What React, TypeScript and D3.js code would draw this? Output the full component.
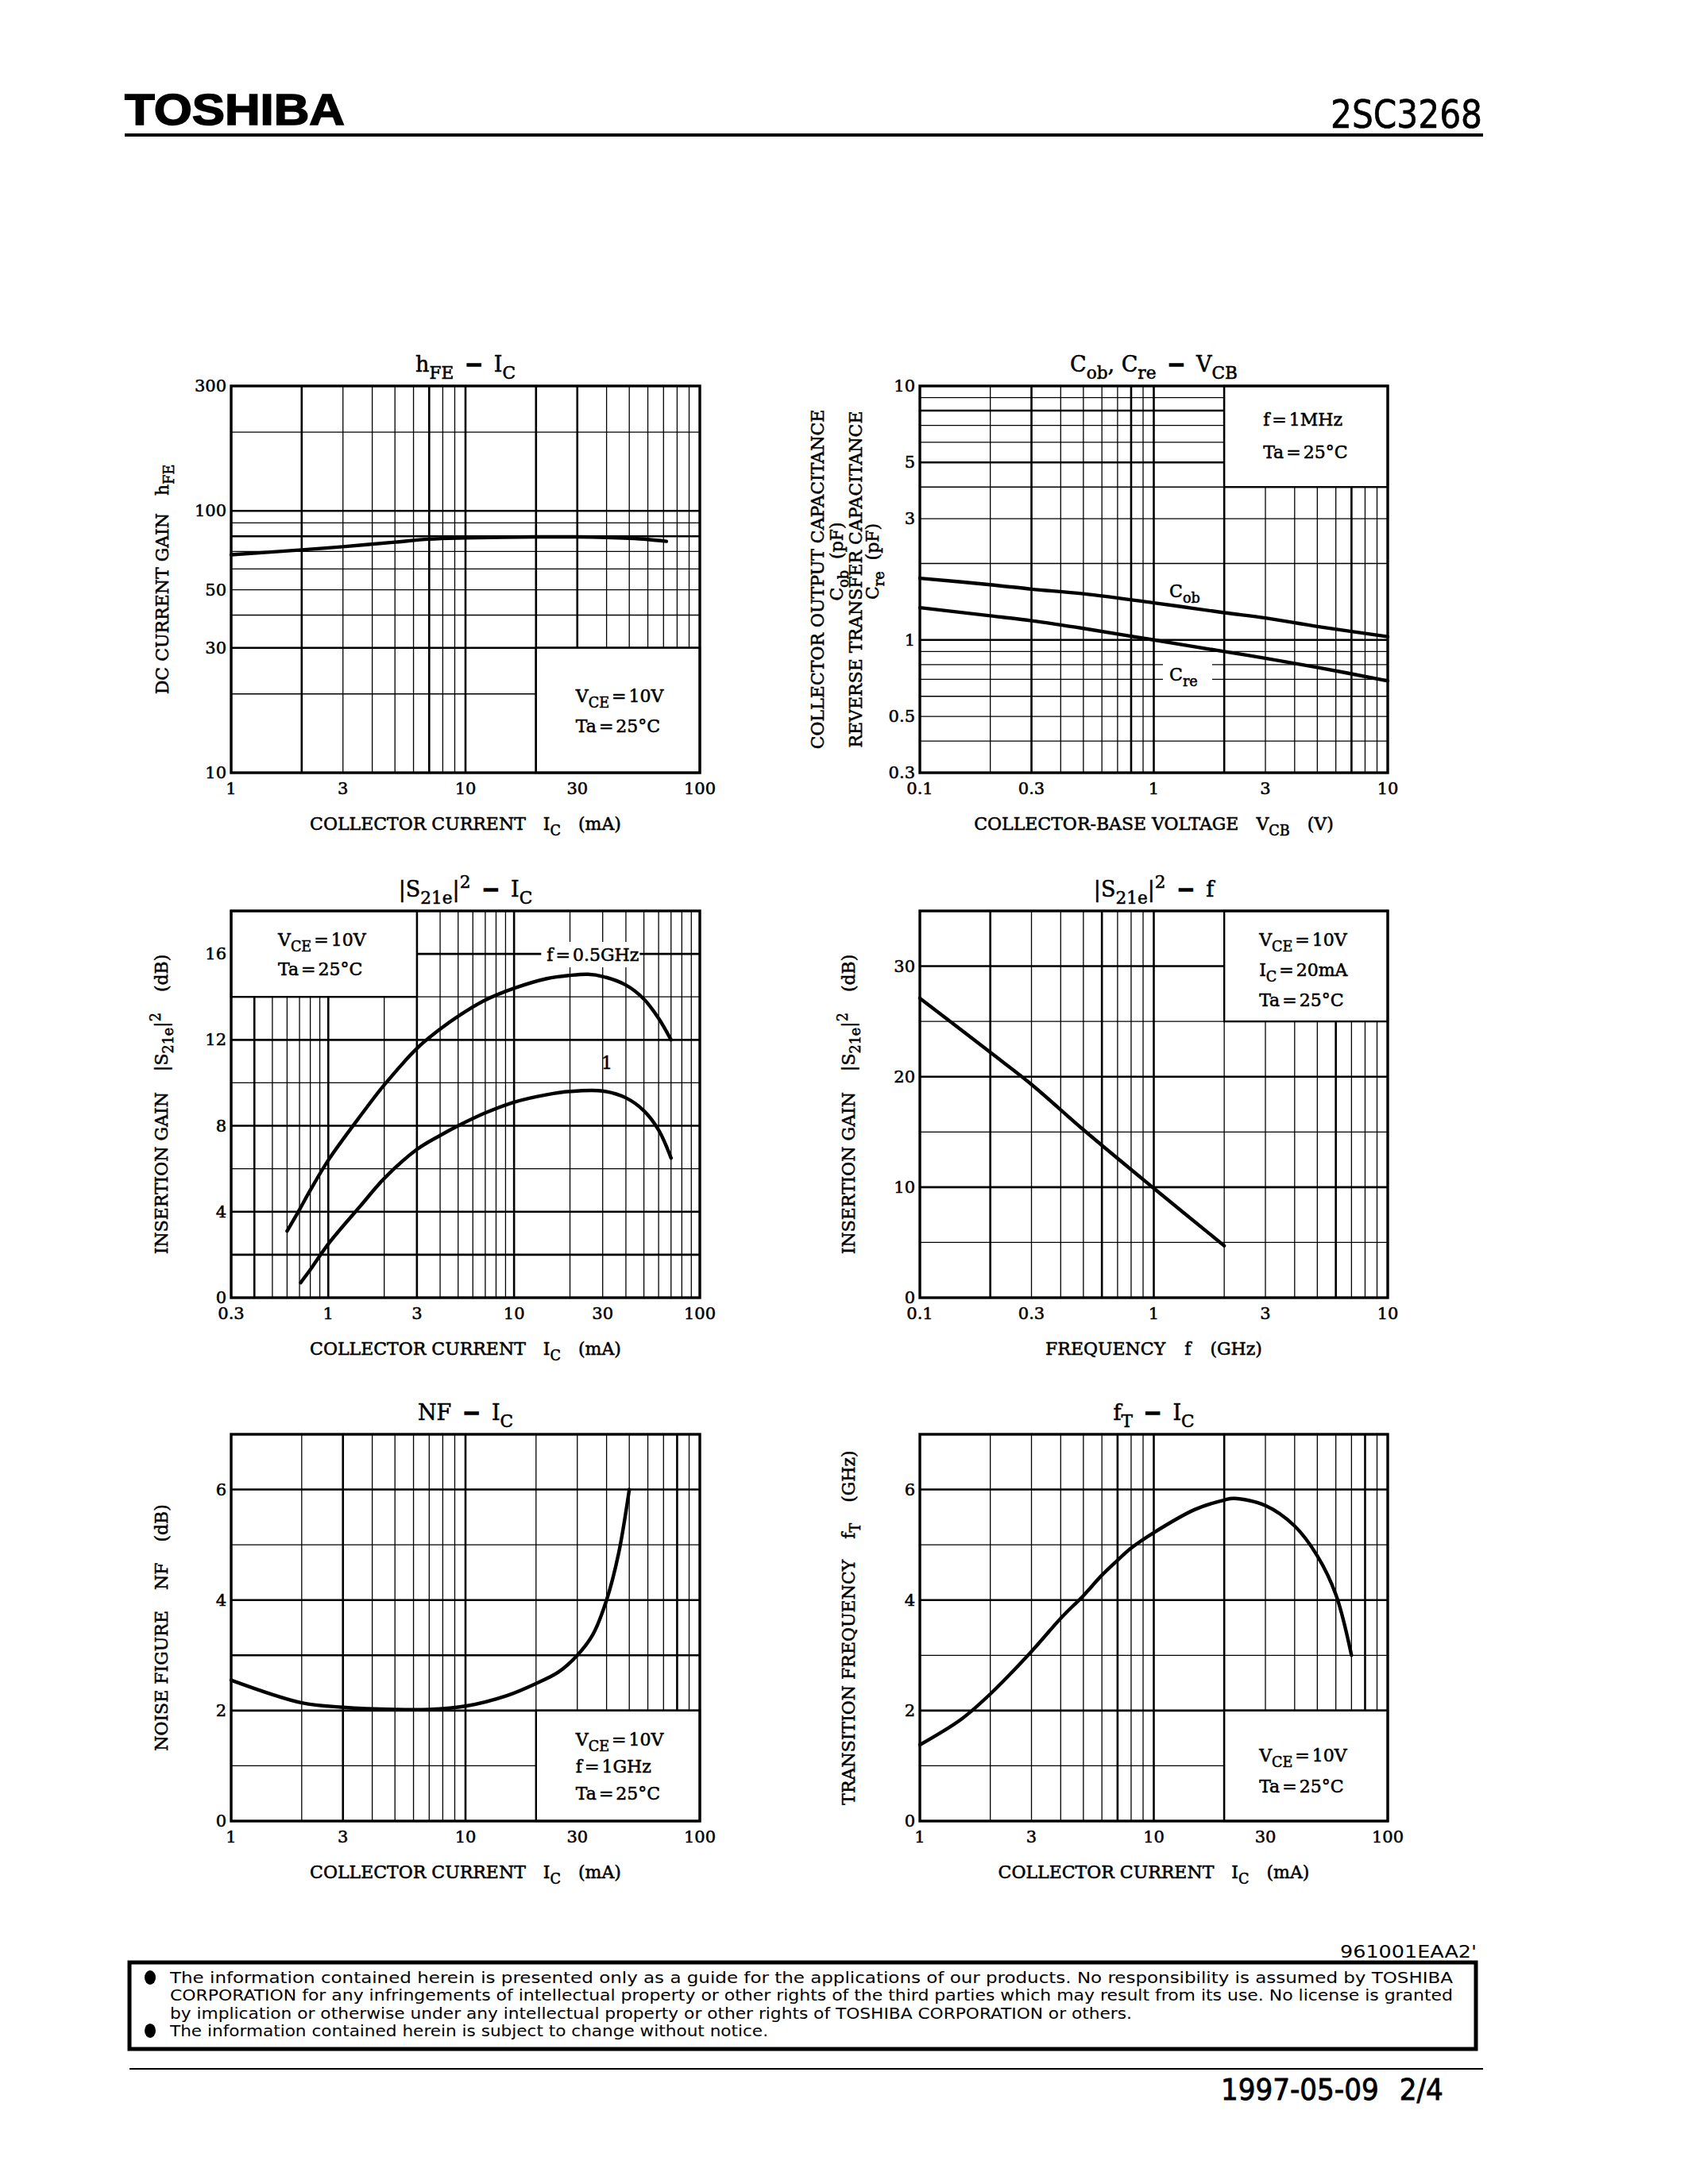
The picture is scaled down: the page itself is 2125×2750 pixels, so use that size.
import React from 'react';
import * as d3 from 'd3';

// ---- values ----
const hfeXTicks = [1, 3, 10, 30, 100];
const hfeYTicks = [10, 30, 50, 100, 300];
const hfeCurve: [number, number][] = [
  [1, 68], [2, 71], [3, 73], [5, 76], [7, 78], [10, 78.8], [20, 79.6],
  [30, 79.6], [40, 79.2], [50, 78.6], [60, 77.8], [72, 76.5],
];

const capXTicks = [0.1, 0.3, 1, 3, 10];
const capYTicks = [0.3, 0.5, 1, 3, 5, 10];
const cobCurve: [number, number][] = [
  [0.1, 1.75], [0.2, 1.65], [0.3, 1.585], [0.5, 1.52], [1, 1.4],
  [2, 1.28], [3, 1.22], [5, 1.13], [10, 1.03],
];
const creCurve: [number, number][] = [
  [0.1, 1.34], [0.2, 1.245], [0.3, 1.19], [0.5, 1.11], [1, 1.0],
  [2, 0.9], [3, 0.847], [5, 0.78], [10, 0.69],
];

const s21IcXTicks = [0.3, 1, 3, 10, 30, 100];
const s21IcYTicks = [0, 4, 8, 12, 16];
const s21Half: [number, number][] = [
  [0.6, 3.1], [0.7, 4.1], [0.8, 5.0], [1, 6.4], [1.5, 8.5], [2, 9.9],
  [3, 11.6], [4, 12.5], [5, 13.1], [7, 13.85], [10, 14.4], [15, 14.85],
  [20, 15.0], [25, 15.05], [30, 14.95], [40, 14.55], [50, 13.9],
  [60, 13.0], [70, 12.0],
];
const s21One: [number, number][] = [
  [0.71, 0.7], [0.8, 1.3], [1, 2.5], [1.5, 4.3], [2, 5.55], [3, 6.9],
  [4, 7.55], [5, 8.0], [7, 8.6], [10, 9.1], [15, 9.45], [20, 9.6],
  [30, 9.62], [40, 9.3], [50, 8.7], [60, 7.8], [70, 6.5],
];

const s21fXTicks = [0.1, 0.3, 1, 3, 10];
const s21fYTicks = [0, 10, 20, 30];
const s21fCurve: [number, number][] = [
  [0.1, 27.1], [0.2, 22.2], [0.3, 19.3], [0.5, 15.2], [1, 9.9], [2, 4.7],
];

const nfXTicks = [1, 3, 10, 30, 100];
const nfYTicks = [0, 2, 4, 6];
const nfCurve: [number, number][] = [
  [1, 2.55], [2, 2.14], [3, 2.06], [5, 2.02], [7, 2.02], [10, 2.08],
  [15, 2.27], [20, 2.49], [25, 2.7], [30, 3.0], [35, 3.38], [40, 4.0],
  [45, 4.84], [50, 6.0],
];

const ftXTicks = [1, 3, 10, 30, 100];
const ftYTicks = [0, 2, 4, 6];
const ftCurve: [number, number][] = [
  [1, 1.38], [1.5, 1.84], [2, 2.3], [3, 3.07], [4, 3.67], [5, 4.08],
  [6, 4.45], [7, 4.72], [8, 4.94], [10, 5.22], [15, 5.64], [20, 5.81],
  [22, 5.84], [30, 5.71], [40, 5.34], [50, 4.8], [60, 4.1], [70, 3.0],
];

const footerLines = [
  'The information contained herein is presented only as a guide for the applications of our products. No responsibility is assumed by TOSHIBA',
  'CORPORATION for any infringements of intellectual property or other rights of the third parties which may result from its use. No license is granted',
  'by implication or otherwise under any intellectual property or other rights of TOSHIBA CORPORATION or others.',
  'The information contained herein is subject to change without notice.',
];

// ---- text helpers ----
type Seg = { t: string; sub?: boolean; sup?: boolean; gap?: number; b?: boolean };

const serif = '"DejaVu Serif", "Liberation Serif", serif';
const sans = '"DejaVu Sans Condensed", "Liberation Sans Narrow", "DejaVu Sans", sans-serif';

function segs(list: Seg[], size: number) {
  let off = 0;
  return list.map((s, i) => {
    const target = s.sub ? size * 0.32 : s.sup ? -size * 0.42 : 0;
    const dy = target - off;
    off = target;
    return (
      <tspan key={i} dx={s.gap || 0} dy={dy} fontSize={s.sub || s.sup ? size * 0.8 : size}
        fontWeight={s.b ? 'bold' : undefined} strokeWidth={s.b ? 1.6 : undefined}>
        {s.t}
      </tspan>
    );
  });
}

const dash: Seg = { t: '−', gap: 14, b: true };
const vce10: Seg[] = [{ t: 'V' }, { t: 'CE', sub: true }, { t: '=', gap: 3 }, { t: '10V', gap: 3 }];
const ta25: Seg[] = [{ t: 'Ta' }, { t: '=', gap: 3 }, { t: '25°C', gap: 3 }];
const collectorCurrent: Seg[] = [
  { t: 'COLLECTOR CURRENT' }, { t: 'I', gap: 22 }, { t: 'C', sub: true }, { t: '(mA)', gap: 22 },
];
const s21Sym: Seg[] = [{ t: '|S' }, { t: '21e', sub: true }, { t: '|' }, { t: '2', sup: true }];

type Label = { at: [number, number]; segs: Seg[]; bg?: [number, number, number, number] };

interface ChartDef {
  left: number; top: number; w: number; h: number;
  xDomain: [number, number]; yDomain: [number, number];
  yLog: boolean; yCount?: number;
  xLabels: number[]; yLabels: number[];
  boldX: number[]; boldY: number[];
  box: { x: [number, number]; y: [number, number]; dx: number; dy: number; lh: number; lines: Seg[][] };
  curves: [number, number][][];
  labels: Label[];
  title: Seg[];
  xTitle: Seg[];
  yTitles: { x: number; cy?: number; segs: Seg[] }[];
}

const L = 291, R = 1158, PW = 590, PH = 487;
const ROW = [486, 1147, 1806];

const charts: ChartDef[] = [
  {
    left: L, top: ROW[0], w: PW, h: PH,
    xDomain: [1, 100], yDomain: [10, 300], yLog: true,
    xLabels: hfeXTicks, yLabels: hfeYTicks,
    boldX: [2, 7, 10, 20, 30], boldY: [30, 80, 100],
    box: { x: [20, 100], y: [10, 30], dx: 50, dy: 68, lh: 38, lines: [vce10, ta25] },
    curves: [hfeCurve], labels: [],
    title: [{ t: 'h' }, { t: 'FE', sub: true }, dash, { t: 'I', gap: 14 }, { t: 'C', sub: true }],
    xTitle: collectorCurrent,
    yTitles: [{ x: 212, segs: [{ t: 'DC CURRENT GAIN' }, { t: 'h', gap: 22 }, { t: 'FE', sub: true }] }],
  },
  {
    left: R, top: ROW[0], w: PW - 1, h: PH,
    xDomain: [0.1, 10], yDomain: [0.3, 10], yLog: true,
    xLabels: capXTicks, yLabels: capYTicks,
    boldX: [0.3, 0.8, 1, 2, 7], boldY: [1, 5, 8],
    box: {
      x: [2, 10], y: [4, 10], dx: 49, dy: 50, lh: 41,
      lines: [[{ t: 'f' }, { t: '=', gap: 3 }, { t: '1MHz', gap: 3 }], ta25],
    },
    curves: [cobCurve, creCurve],
    labels: [
      { at: [1.165, 1.47], segs: [{ t: 'C' }, { t: 'ob', sub: true }] },
      { at: [1.165, 0.69], segs: [{ t: 'C' }, { t: 're', sub: true }], bg: [-8, -26, 62, 36] },
    ],
    title: [
      { t: 'C' }, { t: 'ob', sub: true }, { t: ', C' }, { t: 're', sub: true },
      dash, { t: 'V', gap: 14 }, { t: 'CB', sub: true },
    ],
    xTitle: [{ t: 'COLLECTOR-BASE VOLTAGE' }, { t: 'V', gap: 22 }, { t: 'CB', sub: true }, { t: '(V)', gap: 22 }],
    yTitles: [
      { x: 1037, segs: [{ t: 'COLLECTOR OUTPUT CAPACITANCE' }] },
      { x: 1061, cy: 707, segs: [{ t: 'C' }, { t: 'ob', sub: true }, { t: '(pF)', gap: 14 }] },
      { x: 1085, segs: [{ t: 'REVERSE TRANSFER CAPACITANCE' }] },
      { x: 1106, cy: 707, segs: [{ t: 'C' }, { t: 're', sub: true }, { t: '(pF)', gap: 14 }] },
    ],
  },
  {
    left: L, top: ROW[1], w: PW, h: PH,
    xDomain: [0.3, 100], yDomain: [0, 18], yLog: false, yCount: 9,
    xLabels: s21IcXTicks, yLabels: s21IcYTicks,
    boldX: [0.4, 1, 3, 10], boldY: [2, 4, 8, 12, 16],
    box: { x: [0.3, 3], y: [14, 18], dx: 59, dy: 44, lh: 37, lines: [vce10, ta25] },
    curves: [s21Half, s21One],
    labels: [
      { at: [15.0, 15.67], segs: [{ t: 'f' }, { t: '=', gap: 3 }, { t: '0.5GHz', gap: 3 }], bg: [-7, -24, 124, 32] },
      { at: [29.5, 10.64], segs: [{ t: '1' }] },
    ],
    title: [...s21Sym, dash, { t: 'I', gap: 14 }, { t: 'C', sub: true }],
    xTitle: collectorCurrent,
    yTitles: [{ x: 211, segs: [{ t: 'INSERTION GAIN' }, ...s21Sym.map((s, i) => (i === 0 ? { ...s, gap: 26 } : s)), { t: '(dB)', gap: 26 }] }],
  },
  {
    left: R, top: ROW[1], w: PW - 1, h: PH,
    xDomain: [0.1, 10], yDomain: [0, 35], yLog: false, yCount: 7,
    xLabels: s21fXTicks, yLabels: s21fYTicks,
    boldX: [0.2, 0.6, 1, 6], boldY: [10, 20, 30],
    box: {
      x: [2, 10], y: [25, 35], dx: 44, dy: 44, lh: 38,
      lines: [vce10, [{ t: 'I' }, { t: 'C', sub: true }, { t: '=', gap: 3 }, { t: '20mA', gap: 3 }], ta25],
    },
    curves: [s21fCurve], labels: [],
    title: [...s21Sym, dash, { t: 'f', gap: 14 }],
    xTitle: [{ t: 'FREQUENCY' }, { t: 'f', gap: 24 }, { t: '(GHz)', gap: 24 }],
    yTitles: [{ x: 1076, segs: [{ t: 'INSERTION GAIN' }, ...s21Sym.map((s, i) => (i === 0 ? { ...s, gap: 26 } : s)), { t: '(dB)', gap: 26 }] }],
  },
  {
    left: L, top: ROW[2], w: PW, h: PH,
    xDomain: [1, 100], yDomain: [0, 7], yLog: false, yCount: 7,
    xLabels: nfXTicks, yLabels: nfYTicks,
    boldX: [3, 10, 80], boldY: [2, 3, 4, 6],
    box: {
      x: [20, 100], y: [0, 2], dx: 50, dy: 44, lh: 34,
      lines: [vce10, [{ t: 'f' }, { t: '=', gap: 3 }, { t: '1GHz', gap: 3 }], ta25],
    },
    curves: [nfCurve], labels: [],
    title: [{ t: 'NF' }, dash, { t: 'I', gap: 14 }, { t: 'C', sub: true }],
    xTitle: collectorCurrent,
    yTitles: [{ x: 211, segs: [{ t: 'NOISE FIGURE' }, { t: 'NF', gap: 26 }, { t: '(dB)', gap: 26 }] }],
  },
  {
    left: R, top: ROW[2], w: PW - 1, h: PH,
    xDomain: [1, 100], yDomain: [0, 7], yLog: false, yCount: 7,
    xLabels: ftXTicks, yLabels: ftYTicks,
    boldX: [7, 10, 20, 80], boldY: [2, 4, 6],
    box: { x: [20, 100], y: [0, 2], dx: 44, dy: 64, lh: 39, lines: [vce10, ta25] },
    curves: [ftCurve], labels: [],
    title: [{ t: 'f' }, { t: 'T', sub: true }, dash, { t: 'I', gap: 14 }, { t: 'C', sub: true }],
    xTitle: collectorCurrent,
    yTitles: [{ x: 1076, segs: [{ t: 'TRANSITION FREQUENCY' }, { t: 'f', gap: 26 }, { t: 'T', sub: true }, { t: '(GHz)', gap: 26 }] }],
  },
];

const txt = { fill: '#000', stroke: '#000', strokeWidth: 0.55 };

function Chart({ c }: { c: ChartDef }) {
  const x = d3.scaleLog().domain(c.xDomain).range([c.left, c.left + c.w]);
  const y: any = c.yLog
    ? d3.scaleLog().domain(c.yDomain).range([c.top + c.h, c.top])
    : d3.scaleLinear().domain(c.yDomain).range([c.top + c.h, c.top]);
  const xs = x.ticks();
  const ys: number[] = c.yLog ? y.ticks() : y.ticks(c.yCount);
  const bold = (v: number, list: number[]) => list.some((b) => Math.abs(v - b) <= Math.abs(b) * 1e-6 + 1e-9);

  const line = d3.line<[number, number]>()
    .x((d) => x(d[0]))
    .y((d) => y(d[1]))
    .curve(d3.curveCatmullRom.alpha(0.5));

  const bx0 = x(c.box.x[0]);
  const bx1 = x(c.box.x[1]);
  const by0 = y(c.box.y[1]);
  const by1 = y(c.box.y[0]);
  const cx = c.left + c.w / 2;
  const cy = c.top + c.h / 2;
  const bottom = c.top + c.h;

  return (
    <g fontFamily={serif}>
      {/* grid */}
      {xs.map((v, i) => (
        <line key={'gx' + i} x1={x(v)} x2={x(v)} y1={c.top} y2={bottom}
          stroke="#000" strokeWidth={bold(v, c.boldX) ? 2.6 : 1.3} />
      ))}
      {ys.map((v, i) => (
        <line key={'gy' + i} x1={c.left} x2={c.left + c.w} y1={y(v)} y2={y(v)}
          stroke="#000" strokeWidth={bold(v, c.boldY) ? 2.6 : 1.3} />
      ))}

      {/* condition box */}
      <rect x={bx0} y={by0} width={bx1 - bx0} height={by1 - by0} fill="#fff" stroke="#000" strokeWidth={2.4} />
      {c.box.lines.map((ln, i) => (
        <text key={'bl' + i} x={bx0 + c.box.dx} y={by0 + c.box.dy + i * c.box.lh} {...txt}>
          {segs(ln, 22)}
        </text>
      ))}

      {/* label backgrounds */}
      {c.labels.filter((lb) => lb.bg).map((lb, i) => (
        <rect key={'lbg' + i} x={x(lb.at[0]) + lb.bg![0]} y={y(lb.at[1]) + lb.bg![1]}
          width={lb.bg![2]} height={lb.bg![3]} fill="#fff" />
      ))}

      {/* curves */}
      {c.curves.map((d, i) => (
        <path key={'cv' + i} d={line(d) || ''} fill="none" stroke="#000" strokeWidth={4.4}
          strokeLinecap="round" strokeLinejoin="round" />
      ))}

      {c.labels.map((lb, i) => (
        <text key={'lb' + i} x={x(lb.at[0])} y={y(lb.at[1])} {...txt}>
          {segs(lb.segs, 22)}
        </text>
      ))}

      {/* frame */}
      <rect x={c.left} y={c.top} width={c.w} height={c.h} fill="none" stroke="#000" strokeWidth={3.4} />

      {/* tick labels */}
      {c.xLabels.map((v, i) => (
        <text key={'xl' + i} x={x(v)} y={bottom + 27} textAnchor="middle" fontSize={21} {...txt}>
          {String(v)}
        </text>
      ))}
      {c.yLabels.map((v, i) => (
        <text key={'yl' + i} x={c.left - 6} y={y(v)} textAnchor="end" dominantBaseline="central" fontSize={21} {...txt}>
          {String(v)}
        </text>
      ))}

      {/* titles */}
      <text x={cx} y={c.top - 18} textAnchor="middle" {...txt}>
        {segs(c.title, 27)}
      </text>
      <text x={cx} y={bottom + 72} textAnchor="middle" {...txt}>
        {segs(c.xTitle, 22)}
      </text>
      {c.yTitles.map((t, i) => (
        <text key={'yt' + i} transform={`translate(${t.x},${t.cy ?? cy}) rotate(-90)`} textAnchor="middle" {...txt}>
          {segs(t.segs, 22)}
        </text>
      ))}
    </g>
  );
}

export default function App() {
  const bulletRows = [0, 3];
  return (
    <svg width={2125} height={2750} viewBox="0 0 2125 2750"
      style={{ position: 'absolute', left: 0, top: 0, background: '#fff' }}>
      <rect width={2125} height={2750} fill="#fff" />

      {/* page header */}
      <text x={157} y={157} fontFamily='"Liberation Sans", Arial, sans-serif' fontWeight="bold"
        fontSize={56} textLength={277} lengthAdjust="spacingAndGlyphs" stroke="#000" strokeWidth={1.6}>TOSHIBA</text>
      <text x={1675} y={161} fontFamily={sans} fontSize={50} textLength={191}
        lengthAdjust="spacingAndGlyphs" stroke="#000" strokeWidth={0.6}>2SC3268</text>
      <line x1={157} x2={1867} y1={170} y2={170} stroke="#000" strokeWidth={4} />

      {charts.map((c, i) => <Chart key={i} c={c} />)}

      {/* page footer */}
      <text x={1687} y={2465} fontFamily={sans} fontSize={22} textLength={172}
        lengthAdjust="spacingAndGlyphs">961001EAA2'</text>
      <rect x={163} y={2471} width={1695} height={109} fill="#fff" stroke="#000" strokeWidth={5} />
      {bulletRows.map((r) => (
        <ellipse key={r} cx={189} cy={2490 + r * 22.3} rx={7} ry={9} fill="#000" />
      ))}
      {footerLines.map((ln, i) => (
        <text key={i} x={214} y={2497 + i * 22.3} fontFamily={sans} fontSize={19}
          textLength={[1615, 1615, 1211, 753][i]} lengthAdjust="spacingAndGlyphs">{ln}</text>
      ))}
      <line x1={163} x2={1867} y1={2605} y2={2605} stroke="#000" strokeWidth={2} />
      <text x={1537} y={2644} fontFamily={sans} fontSize={38} stroke="#000" strokeWidth={0.8}>
        <tspan>1997-05-09</tspan>
        <tspan dx={26}>2/4</tspan>
      </text>
    </svg>
  );
}
